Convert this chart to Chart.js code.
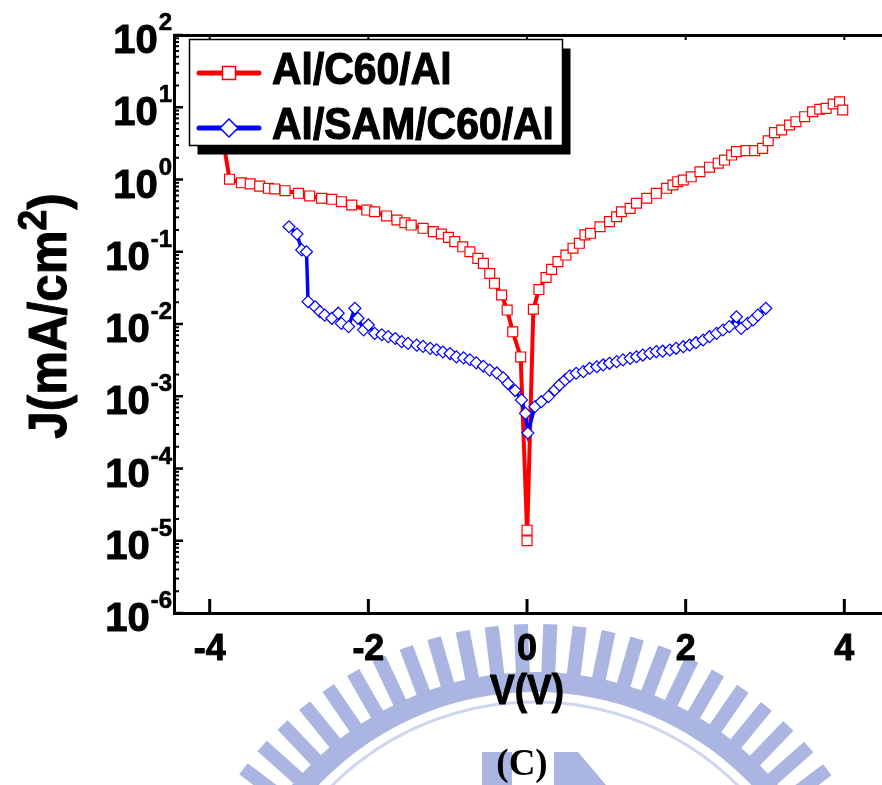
<!DOCTYPE html>
<html>
<head>
<meta charset="utf-8">
<script src="https://cdn.jsdelivr.net/npm/chart.js@4.4.1/dist/chart.umd.min.js"></script>
<style>
  html, body { margin: 0; padding: 0; background: #fff; overflow: hidden; width: 882px; height: 785px; }
  canvas { display: block; }
</style>
</head>
<body>
<canvas id="iv" width="900" height="785"></canvas>
<script>
// Al/C60/Al device: bias (V) and current density (mA/cm^2)
const c60Volts = [-3.90, -3.75, -3.60, -3.49, -3.37, -3.26, -3.18, -3.05, -2.88, -2.74, -2.59, -2.46, -2.34, -2.21,
  -2.02, -1.92, -1.77, -1.64, -1.54, -1.46, -1.31, -1.18, -1.08, -0.99, -0.91, -0.81, -0.72, -0.62, -0.55, -0.47,
  -0.41, -0.32, -0.25, -0.18, -0.08, 0.00, 0.00, 0.08, 0.15, 0.24, 0.31, 0.39, 0.49, 0.58, 0.66, 0.73, 0.80, 0.92,
  1.04, 1.13, 1.19, 1.30, 1.38, 1.51, 1.63, 1.76, 1.84, 1.90, 1.97, 2.07, 2.18, 2.30, 2.41, 2.49, 2.58, 2.64, 2.76,
  2.87, 2.97, 3.04, 3.12, 3.21, 3.31, 3.39, 3.50, 3.60, 3.69, 3.77, 3.86, 3.94, 3.98];
const c60Current = [10, 1.01, 0.90, 0.87, 0.81, 0.755, 0.74, 0.70, 0.644, 0.592, 0.55, 0.532, 0.493, 0.444,
  0.378, 0.358, 0.313, 0.275, 0.252, 0.234, 0.211, 0.190, 0.176, 0.158, 0.138, 0.117, 0.100, 0.081, 0.069, 0.050,
  0.0366, 0.0252, 0.0156, 0.0078, 0.0035, 1.4e-5, 1.0e-5, 0.016, 0.030, 0.044, 0.057, 0.073, 0.090, 0.112, 0.131,
  0.171, 0.180, 0.222, 0.261, 0.305, 0.358, 0.399, 0.469, 0.55, 0.644, 0.755, 0.839, 0.933, 0.984, 1.09, 1.28,
  1.48, 1.68, 1.86, 2.18, 2.43, 2.51, 2.51, 2.70, 3.44, 4.45, 4.84, 5.68, 6.31, 7.40, 8.67, 9.38, 9.66, 11.1,
  11.9, 9.16];

// Al/SAM/C60/Al device
const samVolts = [-3.00, -2.90, -2.84, -2.78, -2.76, -2.67, -2.61, -2.55, -2.46, -2.38, -2.34, -2.25, -2.17, -2.13,
  -2.06, -2.00, -1.92, -1.83, -1.75, -1.66, -1.58, -1.50, -1.39, -1.31, -1.22, -1.14, -1.06, -0.97, -0.89, -0.80,
  -0.72, -0.64, -0.55, -0.47, -0.38, -0.30, -0.24, -0.15, -0.07, -0.02, 0.01, 0.10, 0.18, 0.27, 0.35, 0.41, 0.48,
  0.54, 0.62, 0.71, 0.79, 0.88, 0.96, 1.04, 1.13, 1.21, 1.30, 1.38, 1.46, 1.55, 1.63, 1.71, 1.80, 1.88, 1.97, 2.05,
  2.13, 2.22, 2.30, 2.39, 2.47, 2.55, 2.64, 2.70, 2.78, 2.85, 2.91, 3.01];
const samCurrent = [0.222, 0.176, 0.106, 0.100, 0.0204, 0.0173, 0.0148, 0.0133, 0.0120, 0.0141, 0.0102, 0.0092,
  0.0165, 0.0120, 0.0083, 0.0097, 0.0074, 0.0071, 0.0067, 0.0063, 0.0057, 0.0054, 0.0051, 0.0049, 0.0046, 0.0044,
  0.0041, 0.0039, 0.0035, 0.0034, 0.0032, 0.0029, 0.0026, 0.0023, 0.0021, 0.0018, 0.0015, 0.0012, 0.00089, 0.00058,
  0.00031, 0.00072, 0.00084, 0.00099, 0.00122, 0.00143, 0.00168, 0.00191, 0.00208, 0.00219, 0.00244, 0.00256,
  0.00271, 0.00286, 0.00301, 0.00318, 0.00335, 0.00352, 0.00372, 0.00393, 0.00414, 0.0042, 0.00437, 0.00461,
  0.00485, 0.00512, 0.00551, 0.00601, 0.00667, 0.00743, 0.00826, 0.00918, 0.0126, 0.00871, 0.0102, 0.0114,
  0.0133, 0.0165];

const seriesNames = ['Al/C60/Al', 'Al/SAM/C60/Al'];
const voltTicks = [-4, -2, 0, 2, 4];
const decadeExps = [-6, -5, -4, -3, -2, -1, 0, 1, 2];
const xTitle = 'V(V)';
const yTitleMain = 'J(mA/cm';
const yTitleSup = '2';
const yTitleEnd = ')';
const panelTag = '(C)';

const SANS = '"Liberation Sans", Arial, Helvetica, sans-serif';
const SERIF = '"Liberation Serif", "Times New Roman", serif';
const RED = '#ff0000';
const BLUE = '#0000ff';

const toPoints = (xs, ys) => xs.map((v, i) => ({ x: v, y: ys[i] }));

// heavy bold text with optional horizontal squeeze
function putText(ctx, txt, x, y, size, align, sx, family, heavy) {
  ctx.save();
  ctx.font = 'bold ' + size + 'px ' + (family || SANS);
  ctx.translate(x, y);
  ctx.scale(sx, 1);
  ctx.textAlign = align;
  ctx.textBaseline = 'alphabetic';
  ctx.fillText(txt, 0, 0);
  if (heavy) {
    ctx.lineJoin = 'round';
    ctx.lineWidth = heavy;
    ctx.strokeStyle = ctx.fillStyle;
    ctx.strokeText(txt, 0, 0);
  }
  ctx.restore();
}
function textWidth(ctx, txt, size, sx, family) {
  ctx.save();
  ctx.font = 'bold ' + size + 'px ' + (family || SANS);
  const w = ctx.measureText(txt).width * sx;
  ctx.restore();
  return w;
}

// university seal faintly printed behind the lower part of the page
function drawSeal(ctx) {
  const cx = 535, cy = 990;
  ctx.save();
  ctx.fillStyle = '#aab5e2';
  for (let a = -62; a <= 62; a += 4.6) {
    ctx.save();
    ctx.translate(cx, cy);
    ctx.rotate(a * Math.PI / 180);
    ctx.fillRect(-7, -366, 14, 52);
    ctx.restore();
  }
  ctx.beginPath();
  ctx.arc(cx, cy, 318, 0, Math.PI * 2);
  ctx.arc(cx, cy, 298, 0, Math.PI * 2, true);
  ctx.fill();
  ctx.strokeStyle = '#cfd5ef';
  ctx.lineWidth = 3;
  ctx.beginPath();
  ctx.arc(cx, cy, 288, 0, Math.PI * 2);
  ctx.stroke();
  ctx.fillRect(482, 752, 30, 33);
  ctx.beginPath();
  ctx.moveTo(554, 752); ctx.lineTo(578, 752); ctx.lineTo(606, 785); ctx.lineTo(554, 785);
  ctx.closePath();
  ctx.fill();
  ctx.restore();
}

const decorPlugin = {
  id: 'decor',
  beforeDraw(chart) {
    const ctx = chart.ctx;
    ctx.save();
    ctx.fillStyle = '#fff';
    ctx.fillRect(0, 0, chart.width, chart.height);
    ctx.restore();
    drawSeal(ctx);
  },
  afterDraw(chart) {
    const ctx = chart.ctx;
    const xs = chart.scales.x, ys = chart.scales.y;
    const { left, right, top, bottom } = chart.chartArea;
    ctx.save();
    ctx.strokeStyle = '#000';
    ctx.fillStyle = '#000';

    // inward tick marks on the log axis
    decadeExps.forEach((e, k) => {
      const y = ys.getPixelForValue(Math.pow(10, e));
      ctx.lineWidth = 2.5;
      ctx.beginPath(); ctx.moveTo(left, y); ctx.lineTo(left + 9, y); ctx.stroke();
      if (k < decadeExps.length - 1) {
        ctx.lineWidth = 2;
        for (let m = 2; m <= 9; m++) {
          const ym = ys.getPixelForValue(m * Math.pow(10, e));
          ctx.beginPath(); ctx.moveTo(left, ym); ctx.lineTo(left + 5, ym); ctx.stroke();
        }
      }
    });
    // voltage ticks, bottom and top
    voltTicks.forEach(v => {
      const x = xs.getPixelForValue(v);
      ctx.lineWidth = 3;
      ctx.beginPath(); ctx.moveTo(x, bottom); ctx.lineTo(x, bottom - 14); ctx.stroke();
      ctx.lineWidth = 2;
      ctx.beginPath(); ctx.moveTo(x, top); ctx.lineTo(x, top + 5); ctx.stroke();
    });

    // decade labels 10^n
    decadeExps.forEach(e => {
      const y = ys.getPixelForValue(Math.pow(10, e));
      const sup = String(e);
      const supW = textWidth(ctx, sup, 24, 1);
      putText(ctx, sup, 172, y - 5, 24, 'right', 1, SANS, 0.6);
      putText(ctx, '10', 172 - supW - 1, y + 18, 40, 'right', 1, SANS, 1);
    });
    // voltage labels
    voltTicks.forEach(v => {
      putText(ctx, String(v), xs.getPixelForValue(v), 660, 37, 'center', 0.97, SANS, 1);
    });

    // axis titles
    putText(ctx, xTitle, xs.getPixelForValue(0), 704, 42, 'center', 0.88, SANS, 1);
    ctx.save();
    ctx.translate(66, 316);
    ctx.rotate(-Math.PI / 2);
    const yt = 53, ys2 = 40, sq = 0.93;
    const wMain = textWidth(ctx, yTitleMain, yt, sq);
    const wSup = textWidth(ctx, yTitleSup, ys2, sq);
    const wEnd = textWidth(ctx, yTitleEnd, yt, sq);
    const start = -(wMain + wSup + wEnd) / 2;
    putText(ctx, yTitleMain, start, 0, yt, 'left', sq, SANS, 1);
    putText(ctx, yTitleSup, start + wMain, -20, ys2, 'left', sq, SANS, 1);
    putText(ctx, yTitleEnd, start + wMain + wSup, 0, yt, 'left', sq, SANS, 1);
    ctx.restore();

    // panel tag
    putText(ctx, panelTag, 522, 775, 37, 'center', 1, SERIF);

    // legend box with drop shadow
    const bx = 189.5, by = 39.5, bw = 373, bh = 106;
    ctx.fillStyle = '#000';
    ctx.fillRect(bx + 8, by + 9, bw, bh);
    ctx.fillStyle = '#fff';
    ctx.fillRect(bx, by, bw, bh);
    ctx.lineWidth = 1.5;
    ctx.strokeStyle = '#000';
    ctx.strokeRect(bx, by, bw, bh);

    const rows = [
      { y: 73, color: RED, shape: 'square' },
      { y: 128, color: BLUE, shape: 'diamond' }
    ];
    rows.forEach((r, i) => {
      ctx.lineCap = 'round';
      ctx.lineWidth = 5;
      ctx.strokeStyle = r.color;
      ctx.beginPath(); ctx.moveTo(199, r.y); ctx.lineTo(259, r.y); ctx.stroke();
      ctx.lineWidth = 1.5;
      ctx.fillStyle = '#fff';
      ctx.beginPath();
      if (r.shape === 'square') {
        ctx.rect(229 - 6.5, r.y - 6.5, 13, 13);
      } else {
        ctx.moveTo(229, r.y - 9); ctx.lineTo(238, r.y); ctx.lineTo(229, r.y + 9); ctx.lineTo(220, r.y);
        ctx.closePath();
      }
      ctx.fill(); ctx.stroke();
      ctx.fillStyle = '#000';
      putText(ctx, seriesNames[i], 272, r.y + 11, 44, 'left', 0.93, SANS, 1.2);
    });
    ctx.restore();
  }
};

const frameAxis = (position, extra) => Object.assign({
  position,
  display: true,
  ticks: { display: false },
  grid: { display: false, drawTicks: false },
  border: { display: true, color: '#000', width: 3 }
}, extra);

new Chart(document.getElementById('iv'), {
  type: 'scatter',
  data: {
    datasets: [
      {
        label: seriesNames[0],
        data: toPoints(c60Volts, c60Current),
        showLine: true,
        borderColor: RED,
        borderWidth: 4,
        pointStyle: 'rect',
        pointRadius: 7,
        pointBorderWidth: 1.2,
        pointBorderColor: RED,
        pointBackgroundColor: '#fff',
        order: 2
      },
      {
        label: seriesNames[1],
        data: toPoints(samVolts, samCurrent),
        showLine: true,
        borderColor: BLUE,
        borderWidth: 3.5,
        pointStyle: 'rectRot',
        pointRadius: 6,
        pointBorderWidth: 1.2,
        pointBorderColor: BLUE,
        pointBackgroundColor: '#fff',
        order: 1
      }
    ]
  },
  options: {
    responsive: false,
    animation: false,
    events: [],
    layout: { padding: { left: 174, top: 35, right: 16, bottom: 172 } },
    plugins: { legend: { display: false }, tooltip: { enabled: false } },
    scales: {
      x: frameAxis('bottom', { type: 'linear', min: -4.45, max: 4.5 }),
      xTop: frameAxis('top', { type: 'linear', min: -4.45, max: 4.5 }),
      y: frameAxis('left', { type: 'logarithmic', min: 1e-6, max: 100 }),
      yRight: frameAxis('right', { type: 'logarithmic', min: 1e-6, max: 100 })
    }
  },
  plugins: [decorPlugin]
});
</script>
</body>
</html>
